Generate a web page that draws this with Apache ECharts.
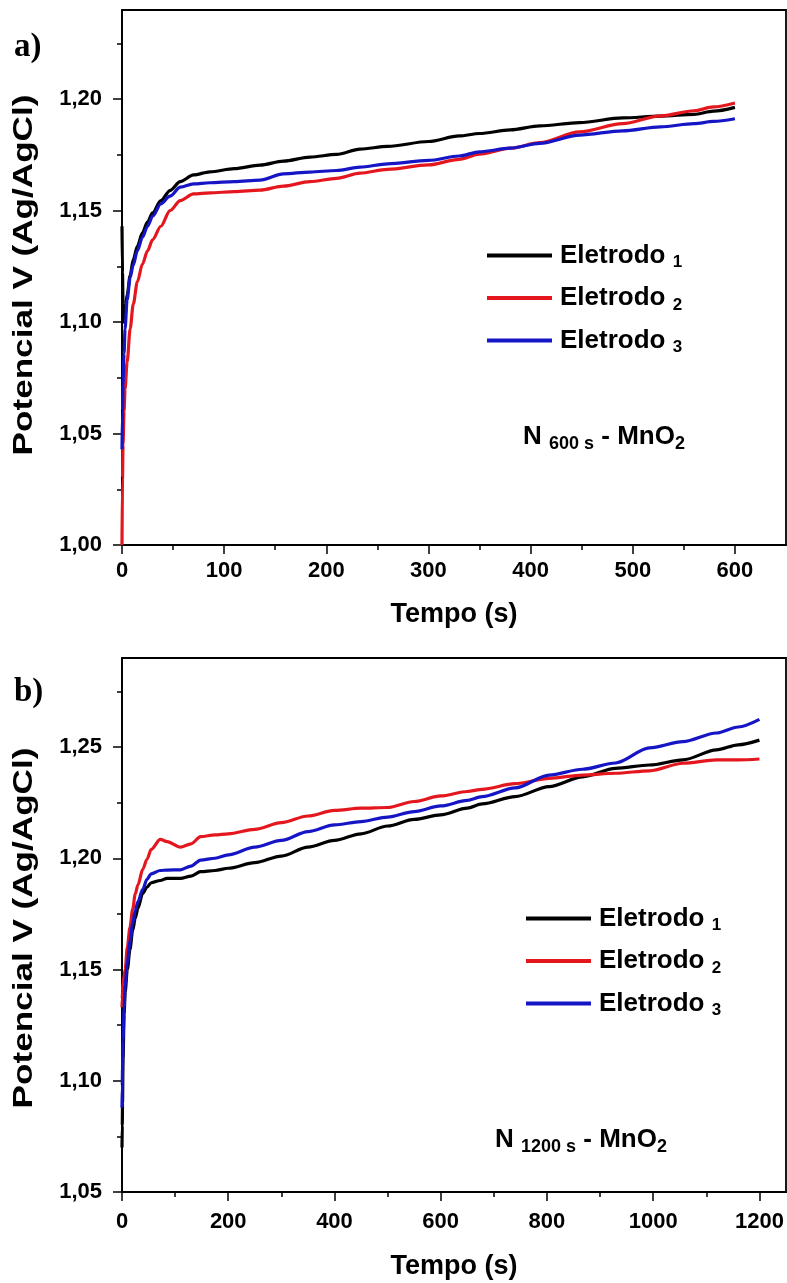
<!DOCTYPE html>
<html>
<head>
<meta charset="utf-8">
<script src="https://cdn.jsdelivr.net/npm/echarts@6/dist/echarts.min.js"></script>
<style>
html, body { margin: 0; padding: 0; background: #ffffff; }
#chart { width: 787px; height: 1283px; }
</style>
</head>
<body>
<div id="chart"></div>
<script>
// ---- panel a) N 600 s ----
const timeA = [0, 0.5, 1, 2, 3, 5, 8, 11, 15, 20, 25, 30, 38, 47, 57, 70, 86, 110, 135, 158, 184, 210, 233, 260, 300, 330, 350, 380, 409, 448, 490, 527, 560, 579, 600];
const e1A = [1.143, 1.122, 1.108, 1.100, 1.103, 1.112, 1.121, 1.128, 1.134, 1.140, 1.145, 1.149, 1.1545, 1.159, 1.163, 1.166, 1.1674, 1.1688, 1.1704, 1.1722, 1.174, 1.1752, 1.1776, 1.1788, 1.181, 1.1835, 1.1846, 1.1862, 1.188, 1.1895, 1.1916, 1.1924, 1.1932, 1.1946, 1.1963];
const e2A = [1.000, 1.030, 1.045, 1.060, 1.070, 1.082, 1.097, 1.108, 1.118, 1.126, 1.132, 1.137, 1.143, 1.150, 1.1545, 1.1575, 1.158, 1.1585, 1.1592, 1.161, 1.163, 1.1645, 1.1668, 1.1685, 1.1705, 1.173, 1.1753, 1.178, 1.1805, 1.1853, 1.189, 1.1925, 1.1948, 1.1965, 1.1983];
const e3A = [1.043, 1.060, 1.072, 1.086, 1.097, 1.110, 1.120, 1.1256, 1.132, 1.138, 1.143, 1.1475, 1.153, 1.1565, 1.1605, 1.162, 1.1625, 1.163, 1.1637, 1.1665, 1.1673, 1.168, 1.1695, 1.171, 1.1725, 1.1745, 1.1764, 1.178, 1.1802, 1.1839, 1.1858, 1.1876, 1.189, 1.190, 1.1912];

// ---- panel b) N 1200 s ----
const timeB = [0, 0.5, 1, 2, 4, 6, 10, 15, 20, 25, 30, 39, 47, 55, 72, 85, 110, 130, 148, 175, 200, 250, 300, 350, 400, 450, 500, 550, 600, 650, 678, 740, 804, 867, 929, 993, 1056, 1119, 1160, 1200];
const e1B = [1.070, 1.080, 1.090, 1.110, 1.130, 1.140, 1.150, 1.159, 1.1675, 1.173, 1.1775, 1.1843, 1.187, 1.189, 1.190, 1.191, 1.191, 1.192, 1.194, 1.1945, 1.1955, 1.198, 1.201, 1.205, 1.208, 1.211, 1.2145, 1.2175, 1.2195, 1.2225, 1.2244, 1.2277, 1.2322, 1.2366, 1.2404, 1.2419, 1.2442, 1.2487, 1.251, 1.2531];
const e2B = [1.133, 1.137, 1.140, 1.144, 1.147, 1.150, 1.160, 1.169, 1.177, 1.184, 1.188, 1.195, 1.1995, 1.204, 1.2085, 1.2075, 1.205, 1.2065, 1.2097, 1.2105, 1.211, 1.213, 1.216, 1.219, 1.2215, 1.2225, 1.2228, 1.2255, 1.228, 1.230, 1.231, 1.2335, 1.2359, 1.2374, 1.2382, 1.2393, 1.2427, 1.2442, 1.2442, 1.2446];
const e3B = [1.088, 1.098, 1.106, 1.118, 1.133, 1.143, 1.153, 1.1625, 1.1705, 1.1765, 1.1805, 1.186, 1.1905, 1.193, 1.1945, 1.1947, 1.1948, 1.1965, 1.1992, 1.200, 1.2015, 1.205, 1.208, 1.212, 1.215, 1.2165, 1.2185, 1.221, 1.2235, 1.226, 1.2277, 1.2316, 1.2374, 1.240, 1.2428, 1.2496, 1.2524, 1.2563, 1.259, 1.2624];

// ---- axis ticks ----
const xTicksA = [0, 100, 200, 300, 400, 500, 600];
const xMinorA = [50, 150, 250, 350, 450, 550];
const yTicksA = [1.00, 1.05, 1.10, 1.15, 1.20];
const yMinorA = [1.025, 1.075, 1.125, 1.175, 1.225];
const xTicksB = [0, 200, 400, 600, 800, 1000, 1200];
const xMinorB = [100, 300, 500, 700, 900, 1100];
const yTicksB = [1.05, 1.10, 1.15, 1.20, 1.25];
const yMinorB = [1.075, 1.125, 1.175, 1.225, 1.275];

const seriesNames = ['Eletrodo 1', 'Eletrodo 2', 'Eletrodo 3'];
const seriesColors = ['#000000', '#e3171d', '#1515c6'];

const FONT = '"Liberation Sans", Arial, sans-serif';
const SERIF = '"Liberation Serif", "Times New Roman", serif';

const grids = [
  { left: 122, top: 10, width: 664, height: 535 },
  { left: 122, top: 658, width: 664, height: 534 }
];

function commaLabel(v) { return Number(v).toFixed(2).replace('.', ','); }
function plainLabel(v) { return String(v); }

function mainX(gi, max, ticks, margin, gap) {
  return {
    type: 'value', gridIndex: gi, min: 0, max: max,
    name: 'Tempo (s)', nameLocation: 'middle', nameGap: gap,
    nameTextStyle: { fontFamily: FONT, fontWeight: 'bold', fontSize: 27, color: '#000' },
    axisLine: { show: true, lineStyle: { color: '#000', width: 1.8 } },
    axisTick: { show: true, length: 9, customValues: ticks, lineStyle: { color: '#000', width: 1.5 } },
    axisLabel: { customValues: ticks, margin: margin, formatter: plainLabel, fontFamily: FONT, fontWeight: 'bold', fontSize: 22, color: '#000' },
    splitLine: { show: false }
  };
}
function minorX(gi, max, ticks) {
  return {
    type: 'value', gridIndex: gi, min: 0, max: max, position: 'bottom',
    axisLine: { show: false },
    axisTick: { show: true, length: 5, customValues: ticks, lineStyle: { color: '#000', width: 1.5 } },
    axisLabel: { show: false }, splitLine: { show: false }
  };
}
function mainY(gi, min, max, ticks) {
  return {
    type: 'value', gridIndex: gi, min: min, max: max,
    axisLine: { show: true, lineStyle: { color: '#000', width: 1.8 } },
    axisTick: { show: true, length: 9, customValues: ticks, lineStyle: { color: '#000', width: 1.5 } },
    axisLabel: { customValues: ticks, margin: 20, formatter: commaLabel, fontFamily: FONT, fontWeight: 'bold', fontSize: 22, color: '#000' },
    splitLine: { show: false }
  };
}
function minorY(gi, min, max, ticks) {
  return {
    type: 'value', gridIndex: gi, min: min, max: max, position: 'left',
    axisLine: { show: false },
    axisTick: { show: true, length: 5, customValues: ticks, lineStyle: { color: '#000', width: 1.5 } },
    axisLabel: { show: false }, splitLine: { show: false }
  };
}

function makeSeries(times, values, idx, xi, yi) {
  return {
    type: 'line', name: seriesNames[idx], xAxisIndex: xi, yAxisIndex: yi,
    data: times.map((t, i) => [t, values[i]]),
    showSymbol: false, symbol: 'none', smooth: 0.3, smoothMonotone: 'x',
    lineStyle: { color: seriesColors[idx], width: 3.2 },
    itemStyle: { color: seriesColors[idx] },
    emphasis: { disabled: true }, animation: false
  };
}

const legendRich = {
  n: { fontFamily: FONT, fontWeight: 'bold', fontSize: 26, color: '#000', lineHeight: 30, padding: [0, 0, 0, 3] },
  s: { fontFamily: FONT, fontWeight: 'bold', fontSize: 17, color: '#000', lineHeight: 16, padding: [14, 0, 0, 0] }
};
function legendAt(left, top) {
  return {
    data: seriesNames, orient: 'vertical', left: left, top: top, padding: 0,
    icon: 'rect', itemWidth: 65, itemHeight: 4, itemGap: 11.5, selectedMode: false,
    formatter: name => '{n|Eletrodo }{s|' + name.split(' ')[1] + '}',
    textStyle: { rich: legendRich }
  };
}

const noteRich = {
  b: { fontFamily: FONT, fontWeight: 'bold', fontSize: 26, fill: '#000', lineHeight: 30 },
  s: { fontFamily: FONT, fontWeight: 'bold', fontSize: 18, fill: '#000', lineHeight: 16, padding: [14, 0, 0, 0] }
};
function note(x, y, sub) {
  return {
    type: 'text', x: x, y: y,
    style: { text: '{b|N }{s|' + sub + '}{b| - MnO}{s|2}', rich: noteRich, verticalAlign: 'middle', align: 'left' }
  };
}
function panelTag(x, y, txt) {
  return {
    type: 'text', x: x, y: y,
    style: { text: txt, fontFamily: SERIF, fontWeight: 'bold', fontSize: 33, fill: '#000', verticalAlign: 'middle', align: 'left' }
  };
}
// vertical axis title, slightly stretched along its length
function yTitle(cx, cy) {
  return {
    type: 'text', x: cx, y: cy, rotation: Math.PI / 2, scaleX: 1.3, scaleY: 1,
    style: { text: 'Potencial V (Ag/AgCl)', fontFamily: FONT, fontWeight: 'bold', fontSize: 27, fill: '#000', align: 'center', verticalAlign: 'middle' }
  };
}

const chart = echarts.init(document.getElementById('chart'), null, { renderer: 'canvas' });
chart.setOption({
  animation: false,
  backgroundColor: '#ffffff',
  grid: grids.map(g => Object.assign({ show: true, borderColor: '#000', borderWidth: 1.8, backgroundColor: 'transparent' }, g)),
  xAxis: [mainX(0, 650, xTicksA, 15, 56), minorX(0, 650, xMinorA), mainX(1, 1250, xTicksB, 19, 61), minorX(1, 1250, xMinorB)],
  yAxis: [mainY(0, 1.00, 1.24, yTicksA), minorY(0, 1.00, 1.24, yMinorA), mainY(1, 1.05, 1.29, yTicksB), minorY(1, 1.05, 1.29, yMinorB)],
  legend: [legendAt(487, 240), legendAt(526, 903)],
  series: [
    makeSeries(timeA, e1A, 0, 0, 0),
    makeSeries(timeA, e2A, 1, 0, 0),
    makeSeries(timeA, e3A, 2, 0, 0),
    makeSeries(timeB, e1B, 0, 2, 2),
    makeSeries(timeB, e2B, 1, 2, 2),
    makeSeries(timeB, e3B, 2, 2, 2)
  ],
  graphic: [
    yTitle(25, 275),
    yTitle(25, 928),
    panelTag(14, 47, 'a)'),
    panelTag(14, 692, 'b)'),
    note(523, 437, '600 s'),
    note(495, 1140, '1200 s')
  ]
});
</script>
</body>
</html>
